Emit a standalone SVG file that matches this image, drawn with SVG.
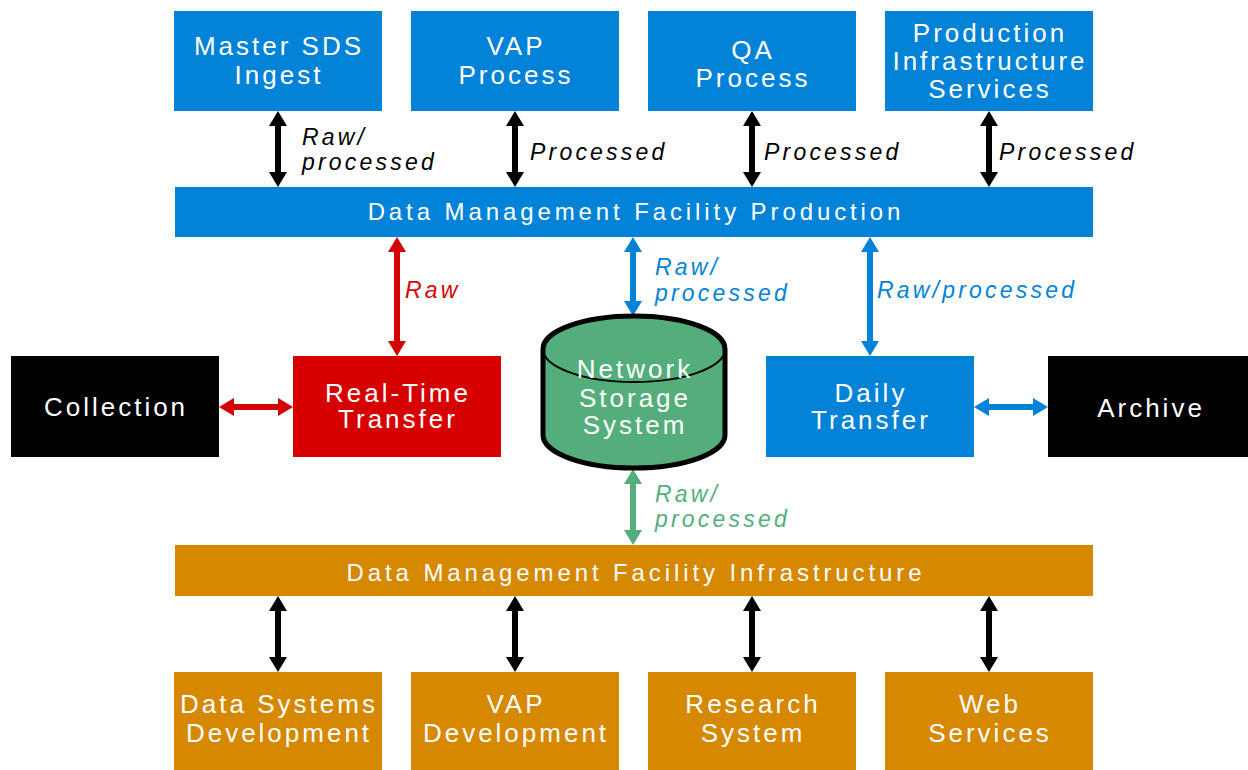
<svg xmlns="http://www.w3.org/2000/svg" width="1248" height="770" viewBox="0 0 1248 770">
<style>
.node{font-family:"Liberation Sans",Arial,sans-serif;font-size:26px;fill:#fff;text-anchor:middle;letter-spacing:3px}
.bar{font-family:"Liberation Sans",Arial,sans-serif;font-size:24px;fill:#fff;text-anchor:middle;letter-spacing:3.9px}
.lbl{font-family:"Liberation Sans",Arial,sans-serif;font-size:23px;font-style:italic;letter-spacing:3.2px}
.blue{fill:#0283D7}.red{fill:#D70000}.orange{fill:#D58800}.black{fill:#000}
.ak{stroke:#000;stroke-width:6;fill:none}
.ab{stroke:#0283D7;stroke-width:6;fill:none}
.ar{stroke:#D70000;stroke-width:6;fill:none}
.ag{stroke:#54AE7B;stroke-width:6;fill:none}
</style>
<defs>
<marker id="mk" markerUnits="userSpaceOnUse" viewBox="0 0 15 18" markerWidth="15" markerHeight="18" refX="5" refY="9" orient="auto-start-reverse"><path d="M0,0 L15,9 L0,18 z" fill="#000"/></marker>
<marker id="mb" markerUnits="userSpaceOnUse" viewBox="0 0 15 18" markerWidth="15" markerHeight="18" refX="5" refY="9" orient="auto-start-reverse"><path d="M0,0 L15,9 L0,18 z" fill="#0283D7"/></marker>
<marker id="mr" markerUnits="userSpaceOnUse" viewBox="0 0 15 18" markerWidth="15" markerHeight="18" refX="5" refY="9" orient="auto-start-reverse"><path d="M0,0 L15,9 L0,18 z" fill="#D70000"/></marker>
<marker id="mg" markerUnits="userSpaceOnUse" viewBox="0 0 15 18" markerWidth="15" markerHeight="18" refX="5" refY="9" orient="auto-start-reverse"><path d="M0,0 L15,9 L0,18 z" fill="#54AE7B"/></marker>
</defs>
<rect width="1248" height="770" fill="#fff"/>

<g id="connectors">
<line class="ak" x1="278" y1="121" x2="278" y2="177" marker-start="url(#mk)" marker-end="url(#mk)"/>
<line class="ak" x1="515" y1="121" x2="515" y2="177" marker-start="url(#mk)" marker-end="url(#mk)"/>
<line class="ak" x1="752" y1="121" x2="752" y2="177" marker-start="url(#mk)" marker-end="url(#mk)"/>
<line class="ak" x1="989" y1="121" x2="989" y2="177" marker-start="url(#mk)" marker-end="url(#mk)"/>
<line class="ar" x1="397" y1="247" x2="397" y2="346" marker-start="url(#mr)" marker-end="url(#mr)"/>
<line class="ab" x1="633" y1="247" x2="633" y2="306" marker-start="url(#mb)" marker-end="url(#mb)"/>
<line class="ab" x1="870" y1="247" x2="870" y2="346" marker-start="url(#mb)" marker-end="url(#mb)"/>
<line class="ar" x1="229" y1="407" x2="283" y2="407" marker-start="url(#mr)" marker-end="url(#mr)"/>
<line class="ab" x1="984" y1="407" x2="1038" y2="407" marker-start="url(#mb)" marker-end="url(#mb)"/>
<line class="ag" x1="633" y1="479" x2="633" y2="535" marker-start="url(#mg)" marker-end="url(#mg)"/>
<line class="ak" x1="278" y1="606" x2="278" y2="662" marker-start="url(#mk)" marker-end="url(#mk)"/>
<line class="ak" x1="515" y1="606" x2="515" y2="662" marker-start="url(#mk)" marker-end="url(#mk)"/>
<line class="ak" x1="752" y1="606" x2="752" y2="662" marker-start="url(#mk)" marker-end="url(#mk)"/>
<line class="ak" x1="989" y1="606" x2="989" y2="662" marker-start="url(#mk)" marker-end="url(#mk)"/>
<text class="lbl" x="302" y="145" fill="#000">Raw/</text>
<text class="lbl" x="302" y="170" fill="#000">processed</text>
<text class="lbl" x="530" y="160" fill="#000">Processed</text>
<text class="lbl" x="764" y="160" fill="#000">Processed</text>
<text class="lbl" x="999" y="160" fill="#000">Processed</text>
<text class="lbl" x="405" y="298" fill="#D70000">Raw</text>
<text class="lbl" x="655" y="275" fill="#0283D7">Raw/</text>
<text class="lbl" x="655" y="301" fill="#0283D7">processed</text>
<text class="lbl" x="877" y="298" fill="#0283D7">Raw/processed</text>
<text class="lbl" x="655" y="502" fill="#54AE7B">Raw/</text>
<text class="lbl" x="655" y="527" fill="#54AE7B">processed</text>
</g>

<g id="master-sds"><rect class="blue" x="174" y="11" width="208" height="100"/><text class="node" x="279" y="55">Master SDS</text><text class="node" x="279" y="84">Ingest</text></g>
<g id="vap-process"><rect class="blue" x="411" y="11" width="208" height="100"/><text class="node" x="516" y="55">VAP</text><text class="node" x="516" y="84">Process</text></g>
<g id="qa-process"><rect class="blue" x="648" y="11" width="208" height="100"/><text class="node" x="753" y="59">QA</text><text class="node" x="753" y="87">Process</text></g>
<g id="prod-infra"><rect class="blue" x="885" y="11" width="208" height="100"/><text class="node" x="990" y="42">Production</text><text class="node" x="990" y="70">Infrastructure</text><text class="node" x="990" y="98">Services</text></g>

<g id="dmf-production"><rect class="blue" x="175" y="187" width="918" height="50"/><text class="bar" x="636" y="220">Data Management Facility Production</text></g>

<g id="collection"><rect class="black" x="11" y="356" width="208" height="101"/><text class="node" x="116" y="416">Collection</text></g>
<g id="real-time"><rect class="red" x="293" y="356" width="208" height="101"/><text class="node" x="398" y="402">Real-Time</text><text class="node" x="398" y="428">Transfer</text></g>
<g id="network-storage">
<path d="M543,349 L543,435 A91,33 0 0 0 725,435 L725,349 A91,33 0 0 0 543,349 Z" fill="#54AE7B" stroke="#000" stroke-width="5"/>
<path d="M543,349 A91,33 0 0 0 725,349" fill="none" stroke="#000" stroke-width="2"/>
<text class="node" x="635" y="378">Network</text><text class="node" x="635" y="407">Storage</text><text class="node" x="635" y="434">System</text>
</g>
<g id="daily-transfer"><rect class="blue" x="766" y="356" width="208" height="101"/><text class="node" x="871" y="402">Daily</text><text class="node" x="871" y="429">Transfer</text></g>
<g id="archive"><rect class="black" x="1048" y="356" width="200" height="101"/><text class="node" x="1151" y="417">Archive</text></g>

<g id="dmf-infrastructure"><rect class="orange" x="175" y="545" width="918" height="51"/><text class="bar" x="636" y="581">Data Management Facility Infrastructure</text></g>

<g id="data-systems-dev"><rect class="orange" x="174" y="672" width="208" height="98"/><text class="node" x="279" y="713">Data Systems</text><text class="node" x="279" y="742">Development</text></g>
<g id="vap-dev"><rect class="orange" x="411" y="672" width="208" height="98"/><text class="node" x="516" y="713">VAP</text><text class="node" x="516" y="742">Development</text></g>
<g id="research-system"><rect class="orange" x="648" y="672" width="208" height="98"/><text class="node" x="753" y="713">Research</text><text class="node" x="753" y="742">System</text></g>
<g id="web-services"><rect class="orange" x="885" y="672" width="208" height="98"/><text class="node" x="990" y="713">Web</text><text class="node" x="990" y="742">Services</text></g>
</svg>
